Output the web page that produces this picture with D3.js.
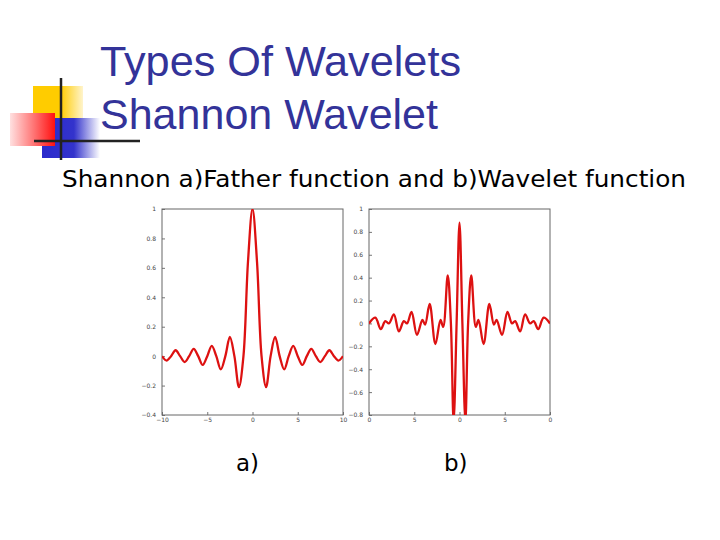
<!DOCTYPE html>
<html><head><meta charset="utf-8">
<script src="https://cdn.jsdelivr.net/npm/d3@7"></script>
<style>body{margin:0;background:#fff}svg{display:block}</style>
</head><body>
<svg id="c" width="720" height="540"></svg>
<script>
// Father (sinc) function samples
const fatherX = [-10,-9.5,-9,-8.5,-8,-7.5,-7,-6.5,-6,-5.5,-5,-4.5,-4,-3.5,-3,-2.5,-2,-1.5,-1,-0.5,0,0.5,1,1.5,2,2.5,3,3.5,4,4.5,5,5.5,6,6.5,7,7.5,8,8.5,9,9.5,10];
const fatherY = [0,-0.03,0,0.04,0,-0.04,0,0.05,0,-0.06,0,0.07,0,-0.09,0,0.13,0,-0.21,0,0.64,1,0.64,0,-0.21,0,0.13,0,-0.09,0,0.07,0,-0.06,0,0.05,0,-0.04,0,0.04,0,-0.03,0];
// Wavelet function samples
const waveX = [-10,-9.3,-8.7,-8.2,-7.8,-7.25,-6.7,-6.15,-5.8,-5.3,-4.7,-4.1,-3.8,-3.3,-2.66,-2.1,-1.8,-1.3,-0.95,-0.65,-0.32,0,0.32,0.65,0.95,1.3,1.8,2.1,2.66,3.3,3.8,4.1,4.7,5.3,5.8,6.15,6.7,7.25,7.8,8.2,8.7,9.3,10];
const waveY = [0,0.05,-0.05,0.02,0,0.08,-0.07,0.02,0,0.1,-0.1,0.03,-0.01,0.17,-0.18,0.03,-0.03,0.42,0,-0.85,0,0.88,0,-0.85,0,0.42,-0.03,0.03,-0.18,0.17,-0.01,0.03,-0.1,0.1,0,0.02,-0.07,0.08,0,0.02,-0.05,0.05,0];
const xTicks = [-10,-5,0,5,10];
const fatherYTicks = [-0.4,-0.2,0,0.2,0.4,0.6,0.8,1];
const waveYTicks = [-0.8,-0.6,-0.4,-0.2,0,0.2,0.4,0.6,0.8,1];

const svg = d3.select("#c");
const defs = svg.append("defs");
function grad(id, c){const g=defs.append("linearGradient").attr("id",id);
 g.append("stop").attr("offset","0%").attr("stop-color",c[0]);
 g.append("stop").attr("offset","55%").attr("stop-color",c[1]);
 g.append("stop").attr("offset","100%").attr("stop-color",c[2]);}
grad("gy",["#ffcc00","#ffcc00","#fff4cc"]);
grad("gr",["#ffe0e0","#ff7070","#ff1010"]);
grad("gb",["#2a2acc","#3333cc","#ffffff"]);
svg.append("rect").attr("x",33).attr("y",86).attr("width",50).attr("height",42).attr("fill","url(#gy)");
svg.append("rect").attr("x",42).attr("y",118).attr("width",58).attr("height",40).attr("fill","url(#gb)");
svg.append("rect").attr("x",10).attr("y",113).attr("width",45).attr("height",33).attr("fill","url(#gr)");
svg.append("line").attr("x1",61).attr("x2",61).attr("y1",78).attr("y2",160).attr("stroke","#222").attr("stroke-width",2.5);
svg.append("line").attr("x1",34).attr("x2",140).attr("y1",141).attr("y2",141).attr("stroke","#222").attr("stroke-width",2.5);

function txt(x,y,s,fs,fam,col,len){const t=svg.append("text").attr("x",x).attr("y",y).attr("font-family",fam).attr("font-size",fs).attr("fill",col).text(s);
 if(len) t.attr("textLength",len).attr("lengthAdjust","spacingAndGlyphs"); return t;}
txt(100,76,"Types Of Wavelets",42,"Liberation Sans, Arial","#333399",361);
txt(100,129,"Shannon Wavelet",42,"Liberation Sans, Arial","#333399",338);
txt(62,187,"Shannon a)Father function and b)Wavelet function",23,"DejaVu Sans, Verdana","#000",624);
txt(236,471,"a)",23,"DejaVu Sans, Verdana","#000");
txt(444,471,"b)",23,"DejaVu Sans, Verdana","#000");

function panel(x0,x1,y0,y1,yDom,yt,xs,ys,tickFmt){
  const x=d3.scaleLinear().domain([-10,10]).range([x0,x1]);
  const y=d3.scaleLinear().domain(yDom).range([y1,y0]);
  const g=svg.append("g");
  const ax=g.append("g").attr("transform",`translate(0,${y1})`).call(d3.axisBottom(x).tickValues(xTicks).tickSize(-3).tickFormat(tickFmt));
  const ay=g.append("g").attr("transform",`translate(${x0},0)`).call(d3.axisLeft(y).tickValues(yt).tickSize(-3).tickFormat(d3.format("")));
  [ax,ay].forEach(a=>{a.select(".domain").remove();a.selectAll("line").attr("stroke","#777");a.selectAll("text").attr("font-size",6).attr("fill","#444").attr("font-family","DejaVu Sans");});
  ay.selectAll("text").attr("x",-6);
  g.append("rect").attr("x",x0).attr("y",y0).attr("width",x1-x0).attr("height",y1-y0).attr("fill","none").attr("stroke","#666").attr("stroke-width",1);
  g.append("clipPath").attr("id","cp"+x0).append("rect").attr("x",x0).attr("y",y0).attr("width",x1-x0).attr("height",y1-y0);
  const data=xs.map((v,i)=>[v,ys[i]]);
  g.append("path").datum(data).attr("clip-path",`url(#cp${x0})`).attr("fill","none").attr("stroke","#dd1111").attr("stroke-width",2.3)
   .attr("d",d3.line().x(d=>x(d[0])).y(d=>y(d[1])).curve(d3.curveCatmullRom.alpha(0.5)));
}
panel(162,343,209,415,[-0.4,1],fatherYTicks,fatherX,fatherY,d3.format(""));
panel(369,550,209,415,[-0.8,1],waveYTicks,waveX,waveY,d=>String(Math.abs(d)%10));
</script>
</body></html>
